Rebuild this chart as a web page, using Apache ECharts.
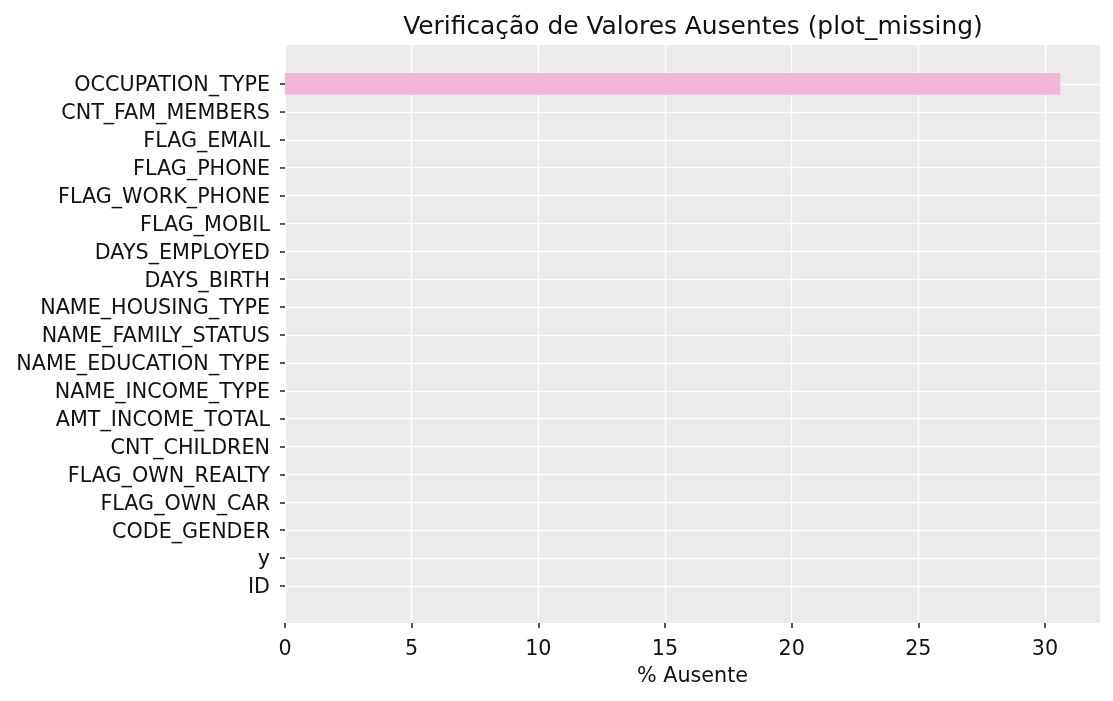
<!DOCTYPE html>
<html>
<head>
<meta charset="utf-8">
<script src="https://cdn.jsdelivr.net/npm/echarts@6/dist/echarts.min.js"></script>
<style>html,body{margin:0;padding:0;background:#fff}#c{width:1113px;height:701px}</style>
</head>
<body>
<div id="c"></div>
<script>
const categories = ['ID','y','CODE_GENDER','FLAG_OWN_CAR','FLAG_OWN_REALTY','CNT_CHILDREN','AMT_INCOME_TOTAL','NAME_INCOME_TYPE','NAME_EDUCATION_TYPE','NAME_FAMILY_STATUS','NAME_HOUSING_TYPE','DAYS_BIRTH','DAYS_EMPLOYED','FLAG_MOBIL','FLAG_WORK_PHONE','FLAG_PHONE','FLAG_EMAIL','CNT_FAM_MEMBERS','OCCUPATION_TYPE'];
const missingPct = [0,0,0,0,0,0,0,0,0,0,0,0,0,0,0,0,0,0,30.6];
const xTicks = [0,5,10,15,20,25,30];
const titleText = 'Verificação de Valores Ausentes (plot_missing)';
const xName = '% Ausente';

const FONT = 'DejaVu Sans';
const XMAX = 32.17;
const L = 285, R = 13;
const chart = echarts.init(document.getElementById('c'));
chart.setOption({
  animation: false,
  title: {text: titleText, left: 688, textAlign: 'center', top: 10,
    textStyle: {fontFamily: FONT, fontSize: 24.9, fontWeight: 'normal', color: '#111'}},
  grid: [
    {left: L, right: R, top: 45, bottom: 78, show: true, backgroundColor: '#EBEBEB', borderWidth: 0},
    {left: L, right: R, top: 84, bottom: 115},
    {left: L, right: R, top: 70.05, bottom: 101.05}
  ],
  xAxis: [
    {gridIndex: 0, type: 'value', min: 0, max: XMAX,
      axisLine: {show: false},
      axisTick: {show: true, length: 5, customValues: xTicks, lineStyle: {color: '#222', width: 1.5}},
      axisLabel: {fontFamily: FONT, fontSize: 20.7, color: '#111', margin: 16,
        customValues: xTicks, formatter: v => String(v)},
      splitLine: {show: true, lineStyle: {color: '#fff', width: 1.4}},
      name: xName, nameLocation: 'middle', nameGap: 43,
      nameTextStyle: {fontFamily: FONT, fontSize: 20.7, color: '#111'}},
    {gridIndex: 1, type: 'value', min: 0, max: XMAX, show: false},
    {gridIndex: 2, type: 'value', min: 0, max: XMAX, show: false}
  ],
  yAxis: [
    {gridIndex: 0, type: 'value', show: false},
    {gridIndex: 1, type: 'value', min: 0, max: categories.length - 1, interval: 1,
      axisLine: {show: false}, axisTick: {show: false}, axisLabel: {show: false},
      splitLine: {show: true, lineStyle: {color: '#fff', width: 1.4}}},
    {gridIndex: 2, type: 'category', data: categories,
      axisLine: {show: false},
      axisTick: {show: true, alignWithLabel: true, length: 5, lineStyle: {color: '#222', width: 1.5}},
      axisLabel: {margin: 15, formatter: v => '{t|' + v + '}',
        rich: {t: {fontFamily: FONT, fontSize: 20.7, color: '#111', padding: [4, 0, 0, 0]}}},
      splitLine: {show: false}}
  ],
  series: [{
    type: 'bar', xAxisIndex: 2, yAxisIndex: 2, data: missingPct,
    barCategoryGap: '22%', itemStyle: {color: '#F2B6D9'}
  }]
});
</script>
</body>
</html>
